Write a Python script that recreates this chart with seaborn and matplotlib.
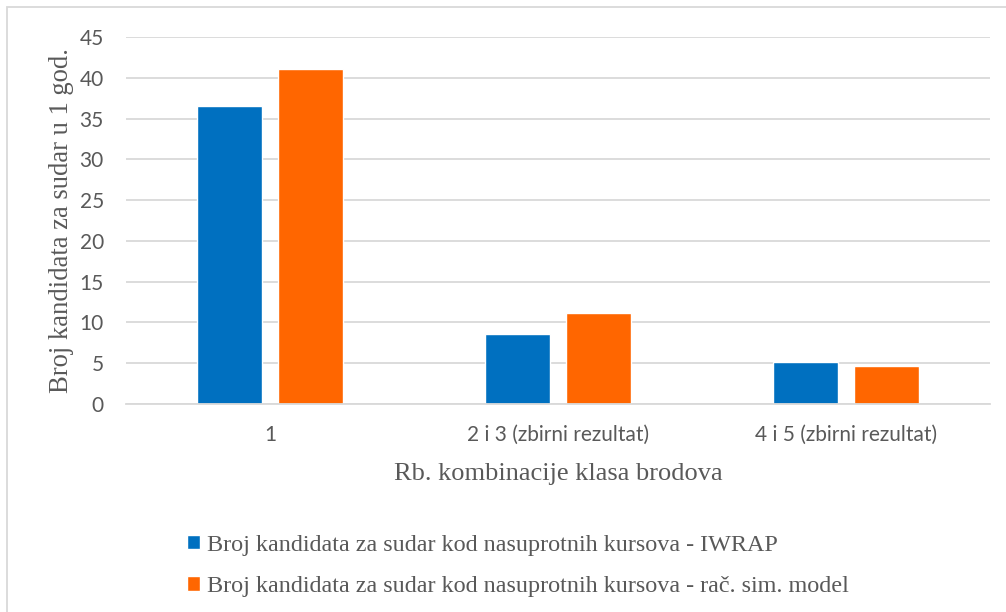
import matplotlib
matplotlib.use("Agg")
import matplotlib.pyplot as plt
import seaborn as sns
import pandas as pd
from matplotlib.patches import Rectangle

categories = ["1", "2 i 3 (zbirni rezultat)", "4 i 5 (zbirni rezultat)"]
iwrap = [36.5, 8.6, 5.1]
sim_model = [41.1, 11.2, 4.6]
series_names = [
    "Broj kandidata za sudar kod nasuprotnih kursova - IWRAP",
    "Broj kandidata za sudar kod nasuprotnih kursova - rač. sim. model",
]
y_ticks = [0, 5, 10, 15, 20, 25, 30, 35, 40, 45]

df = pd.DataFrame({
    "kategorija": categories * 2,
    "vrijednost": iwrap + sim_model,
    "serija": [series_names[0]] * 3 + [series_names[1]] * 3,
})

sns.set_theme(style="white")
plt.rcParams["font.family"] = ["Lato", "DejaVu Sans"]

fig = plt.figure(figsize=(10.06, 6.12), dpi=100)
ax = fig.add_axes([126 / 1006, 208 / 612, 864 / 1006, 367 / 612])

sns.barplot(
    data=df, x="kategorija", y="vrijednost", hue="serija",
    palette=["#0070C0", "#FF6600"], width=0.569, gap=0.207,
    ax=ax, legend=True, saturation=1,
)

ax.set_ylim(0, 45)
ax.set_xlim(-0.5, 2.5)
ax.set_yticks(y_ticks)
ax.yaxis.grid(True, color="#D9D9D9", linewidth=1.3)
ax.set_axisbelow(True)
for side in ["left", "right", "top"]:
    ax.spines[side].set_visible(False)
ax.spines["bottom"].set_color("#D9D9D9")
ax.spines["bottom"].set_linewidth(1.3)
ax.tick_params(axis="both", length=0, labelsize=15, colors="#595959")
ax.tick_params(axis="y", pad=16)
ax.tick_params(axis="x", pad=15)

serif = ["Liberation Serif", "DejaVu Serif"]
ax.set_xlabel("Rb. kombinacije klasa brodova", family=serif, fontsize=19,
              color="#595959", labelpad=13)
ax.set_ylabel("Broj kandidata za sudar u 1 god.", family=serif, fontsize=19.2,
              color="#595959", labelpad=4)

handles, labels = ax.get_legend_handles_labels()
ax.get_legend().remove()
fig.legend(handles, labels, loc="upper left", bbox_to_anchor=(165 / 1006, 1 - 513 / 612),
           frameon=False, prop={"family": serif, "size": 17.4}, labelcolor="#595959",
           handlelength=0.55, handleheight=0.55, handletextpad=0.3, labelspacing=0.85)

fig.patches.append(Rectangle((7 / 1006, -0.1), 1.2, 1 - 7 / 612 + 0.1,
                             transform=fig.transFigure, fill=False,
                             edgecolor="#D9D9D9", linewidth=1.3))

fig.savefig("out.png", dpi=100)
